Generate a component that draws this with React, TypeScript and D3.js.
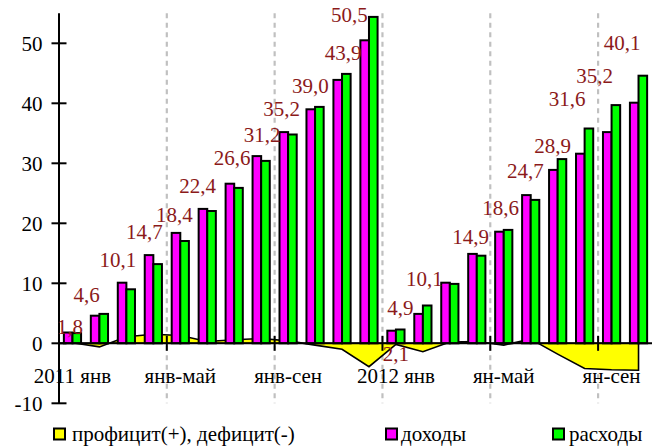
import React from "react";
import * as d3 from "d3";

const categories = [
  "2011 янв", "", "", "", "янв-май", "", "", "", "янв-сен", "", "", "",
  "2012 янв", "", "", "", "ян-май", "", "", "", "ян-сен", "",
];
const income = [1.8, 4.6, 10.1, 14.7, 18.4, 22.4, 26.6, 31.2, 35.2, 39.0, 43.9, 50.5,
  2.1, 4.9, 10.1, 14.9, 18.6, 24.7, 28.9, 31.6, 35.2, 40.1];
const expense = [1.7, 4.9, 9.0, 13.2, 17.05, 22.05, 25.9, 30.4, 34.8, 39.4, 44.9, 54.4,
  2.3, 6.3, 9.9, 14.6, 18.9, 23.9, 30.7, 35.8, 39.7, 44.6];
const balance = [0.1, -0.6, 1.1, 1.5, 1.3, 0.3, 0.6, 0.8, 0.4, -0.3, -1.0, -3.9,
  -0.2, -1.4, 0.2, 0.3, -0.3, 0.7, -1.8, -4.2, -4.4, -4.5];
const incomeLabels = ["1,8", "4,6", "10,1", "14,7", "18,4", "22,4", "26,6", "31,2", "35,2", "39,0", "43,9", "50,5",
  "2,1", "4,9", "10,1", "14,9", "18,6", "24,7", "28,9", "31,6", "35,2", "40,1"];
// manual label nudges [dx, dy] (as dragged in the source chart)
const labelNudge: [number, number][] = [
  [-2.5, 1], [-12.7, -14], [-8.4, -16], [-9, -16], [-6, -10.5], [-9.7, -16], [-2, -18.7], [1, -14.4],
  [-6.4, -16.4], [-4.6, -16], [1, -20], [-19.5, -18], [0, 30], [-22.6, 1], [-25.4, 3.3], [-6.2, -10],
  [-3.1, -16.7], [-5.3, -16.8], [-5, -16.6], [-17.5, -47.7], [-17, -48.8], [-16.4, -52.7],
];
const yTicks = [-10, 0, 10, 20, 30, 40, 50];
const legendItems = [
  { name: "профицит(+), дефицит(-)", color: "#FFFF00" },
  { name: "доходы", color: "#FF00FF" },
  { name: "расходы", color: "#00FF00" },
];

const FONT = "'Liberation Serif', 'Times New Roman', serif";

export default function App() {
  const W = 661, H = 448;
  const x0 = 59, x1 = 652;
  const y = d3.scaleLinear().domain([-10, 55]).range([403.3, 13.3]);
  const idx = categories.map((_, i) => i);
  const x = d3.scaleBand<number>().domain(idx).range([x0, x1]).padding(0);
  const cx = (i: number) => (x(i) as number) + x.bandwidth() / 2;
  const barW = 8.6;
  const FS = 21;

  const area = d3.area<number>()
    .x((_, i) => cx(i))
    .y0(y(0))
    .y1((d) => y(d));

  const gridIdx = [4, 8, 12, 16, 20];

  const legendX = [54, 386, 553];
  const legendTextX = [72, 401, 569];

  return (
    <svg width={W} height={H}
      style={{ position: "absolute", left: 0, top: 0, background: "#fff", fontFamily: FONT }}>
      {/* dashed gridlines */}
      {gridIdx.map((i) => (
        <line key={"g" + i} x1={x(i)} x2={x(i)} y1={y(55)} y2={y(-10)}
          stroke="#c0c0c0" strokeWidth={2.2} strokeDasharray="5,4.5" />
      ))}
      {/* balance area */}
      <path d={area(balance) || ""} fill="#FFFF00" stroke="#000" strokeWidth={1.6} strokeLinejoin="miter" />
      {/* bars */}
      {idx.map((i) => (
        <g key={"b" + i}>
          <rect x={cx(i) - barW} y={y(income[i])} width={barW} height={y(0) - y(income[i])}
            fill="#FF00FF" stroke="#000" strokeWidth={2} />
          <rect x={cx(i)} y={y(expense[i])} width={barW} height={y(0) - y(expense[i])}
            fill="#00FF00" stroke="#000" strokeWidth={2} />
        </g>
      ))}
      {/* axes */}
      <line x1={x0} x2={x0} y1={y(55)} y2={y(-10)} stroke="#000" strokeWidth={2} />
      {yTicks.map((t) => (
        <g key={"yt" + t}>
          <line x1={x0 - 7.5} x2={x0 + 7.5} y1={y(t)} y2={y(t)} stroke="#000" strokeWidth={2} />
          <text x={42.5} y={y(t)} dy="0.35em" textAnchor="end" fontSize={FS} fill="#000">{t}</text>
        </g>
      ))}
      <line x1={x0} x2={x1} y1={y(0)} y2={y(0)} stroke="#000" strokeWidth={2} />
      {gridIdx.map((i) => (
        <line key={"xt" + i} x1={x(i)} x2={x(i)} y1={y(0) - 7.5} y2={y(0) + 7.5} stroke="#000" strokeWidth={2} />
      ))}
      {categories.map((c, i) => c ? (
        <text key={"xl" + i} x={cx(i)} y={383} textAnchor="middle" fontSize={FS} fill="#000">{c}</text>
      ) : null)}
      {/* data labels */}
      {incomeLabels.map((l, i) => (
        <text key={"dl" + i} x={cx(i) + labelNudge[i][0]} y={y(income[i]) + labelNudge[i][1]}
          textAnchor="middle" fontSize={FS} fill="#8B1A1A">{l}</text>
      ))}
      {/* legend */}
      {legendItems.map((it, k) => (
        <g key={"lg" + k}>
          <rect x={legendX[k]} y={428.5} width={11} height={11} fill={it.color} stroke="#000" strokeWidth={2} />
          <text x={legendTextX[k]} y={441} fontSize={FS} fill="#000">{it.name}</text>
        </g>
      ))}
    </svg>
  );
}
